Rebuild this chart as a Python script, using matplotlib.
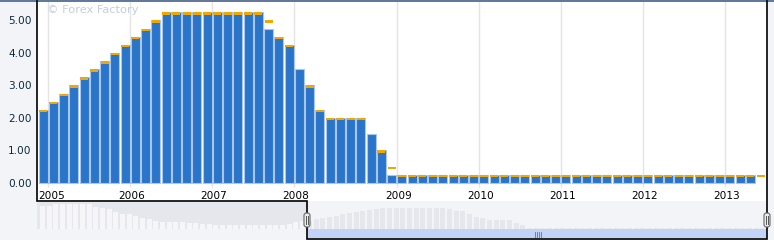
import matplotlib
matplotlib.use("Agg")
import matplotlib.pyplot as plt
from matplotlib.patches import Rectangle, FancyBboxPatch

# FOMC rate decisions, one slot per release (Dec 2004 .. Jun 2013)
actual = [2.25,
          2.50, 2.75, 3.00, 3.25, 3.50, 3.75, 4.00, 4.25,
          4.50, 4.75, 5.00, 5.25, 5.25, 5.25, 5.25, 5.25,
          5.25, 5.25, 5.25, 5.25, 5.25, 4.75, 4.50, 4.25,
          3.50, 3.00, 2.25, 2.00, 2.00, 2.00, 2.00, 1.50, 1.00, 0.25] \
         + [0.25] * 35 + [None]
forecast = list(actual)
forecast[22] = 5.00
forecast[25] = None
forecast[32] = None
forecast[34] = 0.50
forecast[70] = 0.25

year_labels = ["2005", "2006", "2007", "2008", "2009", "2010", "2011", "2012", "2013"]
year_first_slot = [1, 9, 17, 25, 35, 43, 51, 59, 67]

y_ticks = [0, 1, 2, 3, 4, 5]

# navigator series (height in navigator pixels)
nav = [23, 23.3, 25, 25, 25, 25, 25, 25, 22.3, 20.7, 19.7, 16.7, 15, 15, 13.3, 11.3, 10, 8.3, 7.3, 7.3,
       7, 7, 6.5, 6, 5, 5, 4, 4, 4, 4, 4, 4, 4, 4, 4, 4, 4.5, 5.5, 7, 8, 8,
       10, 11.3, 12.3, 13.3, 14.7, 15.7, 16.7, 18, 19, 20, 20.7,
       21.3, 21.3, 21.3, 21.3, 21.3, 21.3, 21.3, 21.3, 21.3,
       20.5, 18.3, 18, 14.7, 12, 10.7, 9, 9, 9, 9, 5.7, 4] + [1] * 36

W, H = 774, 240
BG = "#f3f4f8"
BLUE = "#2a74c9"
ORANGE = "#f0a800"

def box(x0, y0, x1, y1):
    return [x0 / W, (H - y1) / H, (x1 - x0) / W, (y1 - y0) / H]

fig = plt.figure(figsize=(W / 100, H / 100), dpi=100, facecolor=BG)

# main chart
ax = fig.add_axes(box(37, 1, 767, 201))
ax.set_facecolor("white")
ax.set_xlim(-0.595, 70.62)
ax.set_ylim(-0.554, 5.6)
for s in ax.spines.values():
    s.set_visible(False)

for slot in year_first_slot:
    ax.vlines(slot - 0.5, -0.12, 5.6, color="#e4e4e4", lw=1, zorder=0)

xs = [i for i, v in enumerate(actual) if v is not None]
ax.bar(xs, [actual[i] for i in xs], width=0.86, color=BLUE,
       edgecolor="#a9c6ec", linewidth=0.8, zorder=2)

dash = 2.5 / 32.5
fx = [i for i, v in enumerate(forecast) if v is not None]
ax.bar(fx, [dash] * len(fx), bottom=[forecast[i] - dash for i in fx],
       width=0.8, color=ORANGE, linewidth=0, zorder=3)

ax.set_xticks([])
ax.set_yticks(y_ticks)
ax.set_yticklabels(["%.2f" % v for v in y_ticks], color="#0c2c3c", fontsize=7.6)
ax.tick_params(axis="y", length=0, pad=3.9)

for lab, slot in zip(year_labels, year_first_slot):
    if lab == "2005":
        ax.text(-0.52, 0.027, lab, transform=ax.get_xaxis_transform(),
                ha="left", va="center", fontsize=7.6, color="black")
    else:
        ax.text(slot - 0.35, 0.027, lab, transform=ax.get_xaxis_transform(),
                ha="center", va="center", fontsize=7.6, color="black")

ax.text(0.0135, 0.955, "\u00a9 Forex Factory", transform=ax.transAxes,
        ha="left", va="center", fontsize=8.2, color="#c5cde0")

# navigator
nx = fig.add_axes(box(37, 202, 767, 229))
nx.set_facecolor("white")
nx.set_xlim(-0.82, 108.6)
nx.set_ylim(0, 27)
nx.axis("off")
split = (307 - 42.5) / 6.67
nx.add_patch(Rectangle((-0.82, 0), split + 0.82, 27, color="#e6e7ec", zorder=0))
cols = ["#f6f6f8" if i < split else "#e6e7ec" for i in range(len(nav))]
nx.bar(range(len(nav)), nav, width=0.75, color=cols, linewidth=0, zorder=1)

# overlay in pixel units for frame, scrollbar and handles
ov = fig.add_axes([0, 0, 1, 1])
ov.set_xlim(0, W)
ov.set_ylim(H, 0)
ov.axis("off")
ov.patch.set_alpha(0)
ov.add_patch(Rectangle((307, 229), 460, 9.3, color="#c3d3f7", lw=0))
ov.plot([0, W], [0.6, 0.6], color="#5f7598", lw=1.4)
ov.plot([37, 37, 307, 307, 767, 767], [1, 201, 201, 238.5, 238.5, 1],
        color="black", lw=1.2, solid_joinstyle="miter")
for gx in [534.5, 536.5, 538.5, 540.5]:
    ov.plot([gx, gx], [232, 236.5], color="#6070a0", lw=0.6)
for hx in [307, 767]:
    ov.add_patch(FancyBboxPatch((hx - 3, 213), 6, 14,
                                boxstyle="round,pad=0,rounding_size=2.5",
                                fc="#ececec", ec="#666666", lw=0.8, zorder=5))
    ov.plot([hx - 1, hx - 1], [216, 224], color="#555555", lw=0.7, zorder=6)
    ov.plot([hx + 1, hx + 1], [216, 224], color="#555555", lw=0.7, zorder=6)

fig.savefig("out.png", dpi=100, facecolor=BG)
